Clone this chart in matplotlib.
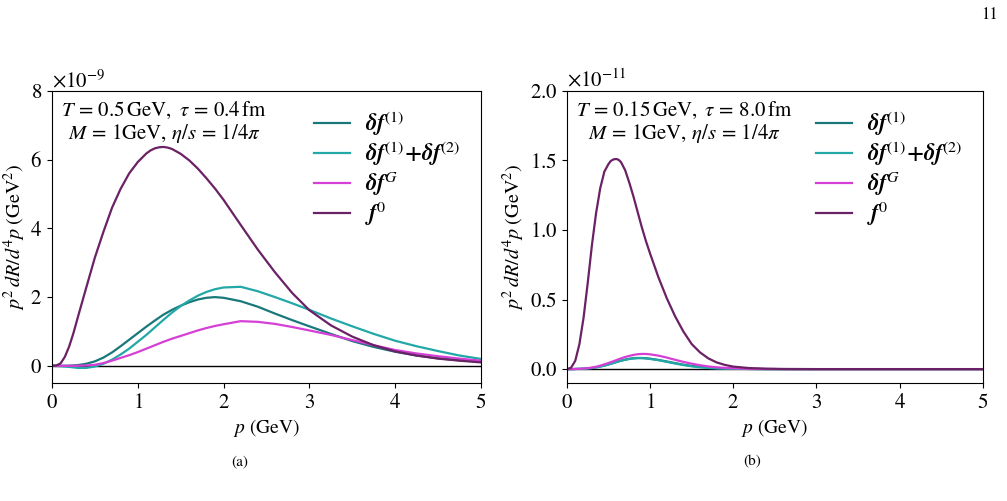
import numpy as np
import matplotlib
matplotlib.use("Agg")
import matplotlib.pyplot as plt
from matplotlib.ticker import ScalarFormatter

plt.rcParams['font.family'] = ['STIXGeneral', 'DejaVu Serif']
plt.rcParams['mathtext.fontset'] = 'stix'
plt.rcParams['axes.formatter.use_mathtext'] = True

# ---- panel (a): T = 0.5 GeV, tau = 0.4 fm  (values in units of 1e-9)
p_a = [0, 0.1, 0.2, 0.3, 0.4, 0.5, 0.6, 0.7, 0.8, 0.9, 1.0, 1.1, 1.2, 1.3, 1.4,
       1.5, 1.6, 1.7, 1.8, 1.9, 2.0, 2.2, 2.4, 2.6, 2.8, 3.0, 3.25, 3.5, 3.75,
       4.0, 4.25, 4.5, 4.75, 5.0]
df1_a = [0, 0, 0.005, 0.02, 0.06, 0.13, 0.24, 0.39, 0.57, 0.76, 0.95, 1.14,
         1.32, 1.49, 1.63, 1.75, 1.85, 1.93, 1.98, 2.0, 1.98, 1.88, 1.72, 1.52,
         1.33, 1.15, 0.93, 0.72, 0.55, 0.41, 0.3, 0.22, 0.16, 0.12]
df12_a = [0, -0.01, -0.03, -0.06, -0.06, -0.02, 0.06, 0.18, 0.33, 0.5, 0.7,
          0.9, 1.12, 1.34, 1.55, 1.74, 1.9, 2.04, 2.15, 2.23, 2.28, 2.3, 2.17,
          2.0, 1.82, 1.63, 1.38, 1.15, 0.93, 0.73, 0.57, 0.43, 0.3, 0.2]
dfG_a = [0, 0, 0, 0, 0.01, 0.03, 0.08, 0.15, 0.23, 0.31, 0.4, 0.5, 0.6, 0.7,
         0.79, 0.87, 0.95, 1.03, 1.1, 1.16, 1.21, 1.3, 1.28, 1.22, 1.13, 1.03,
         0.9, 0.75, 0.6, 0.46, 0.36, 0.28, 0.21, 0.15]
p_f0_a = [0, 0.05, 0.1, 0.15, 0.2, 0.25, 0.3, 0.4, 0.5, 0.6, 0.7, 0.8, 0.9, 1.0,
          1.1, 1.15, 1.2, 1.25, 1.3, 1.35, 1.4, 1.5, 1.6, 1.7, 1.8, 1.9, 2.0,
          2.2, 2.4, 2.6, 2.8, 3.0, 3.25, 3.5, 3.75, 4.0, 4.25, 4.5, 4.75, 5.0]
f0_a = [0, 0.01, 0.07, 0.26, 0.56, 0.95, 1.4, 2.28, 3.15, 3.9, 4.6, 5.15, 5.6,
        5.93, 6.18, 6.27, 6.33, 6.36, 6.37, 6.35, 6.31, 6.17, 5.98, 5.74, 5.46,
        5.16, 4.83, 4.1, 3.38, 2.72, 2.12, 1.62, 1.18, 0.85, 0.6, 0.42, 0.3,
        0.21, 0.15, 0.1]

# ---- panel (b): T = 0.15 GeV, tau = 8.0 fm  (values in units of 1e-11)
p_b = [0, 0.05, 0.1, 0.15, 0.2, 0.25, 0.3, 0.35, 0.4, 0.45, 0.5, 0.55, 0.6,
       0.65, 0.7, 0.75, 0.8, 0.85, 0.9, 0.95, 1.0, 1.1, 1.2, 1.3, 1.4, 1.5,
       1.6, 1.7, 1.8, 1.9, 2.0, 2.2, 2.4, 2.6, 3.0, 4.0, 5.0]
df1_b = [0, 0, 0.001, 0.002, 0.003, 0.005, 0.008, 0.013, 0.019, 0.026, 0.034,
         0.043, 0.052, 0.061, 0.068, 0.074, 0.078, 0.08, 0.08, 0.078, 0.075,
         0.066, 0.055, 0.043, 0.032, 0.023, 0.016, 0.011, 0.007, 0.005, 0.003,
         0.001, 0, 0, 0, 0, 0]
df12_b = [0, 0, 0.001, 0.002, 0.003, 0.005, 0.008, 0.012, 0.018, 0.025, 0.033,
          0.042, 0.051, 0.06, 0.067, 0.073, 0.077, 0.079, 0.079, 0.077, 0.073,
          0.064, 0.052, 0.04, 0.029, 0.02, 0.013, 0.008, 0.005, 0.003, 0.002,
          0.001, 0, 0, 0, 0, 0]
dfG_b = [0, 0, 0.001, 0.002, 0.004, 0.007, 0.011, 0.017, 0.025, 0.034, 0.044,
         0.055, 0.066, 0.077, 0.087, 0.095, 0.102, 0.107, 0.109, 0.109, 0.106,
         0.097, 0.083, 0.067, 0.052, 0.039, 0.028, 0.019, 0.013, 0.009, 0.006,
         0.002, 0.001, 0, 0, 0, 0]
p_f0_b = [0, 0.05, 0.1, 0.15, 0.2, 0.25, 0.3, 0.35, 0.4, 0.45, 0.5, 0.525,
          0.55, 0.575, 0.6, 0.625, 0.65, 0.7, 0.75, 0.8, 0.85, 0.9, 0.95, 1.0,
          1.1, 1.2, 1.3, 1.4, 1.5, 1.6, 1.7, 1.8, 1.9, 2.0, 2.2, 2.4, 2.6, 3.0,
          4.0, 5.0]
f0_b = [0, 0.01, 0.06, 0.18, 0.37, 0.62, 0.89, 1.12, 1.30, 1.42, 1.475, 1.495,
        1.505, 1.51, 1.51, 1.503, 1.488, 1.43, 1.34, 1.24, 1.13, 1.02, 0.92,
        0.83, 0.66, 0.51, 0.38, 0.27, 0.18, 0.12, 0.077, 0.048, 0.03, 0.018,
        0.007, 0.003, 0.001, 0, 0, 0]

labels = [r'$\boldsymbol{\delta f}^{(1)}$',
          r'$\boldsymbol{\delta f}^{(1)}\boldsymbol{+\delta f}^{(2)}$',
          r'$\boldsymbol{\delta f}^{G}$',
          r'$\boldsymbol{f}^{0}$']
colors = ['#19787a', '#22a8a6', '#d63fd6', '#6b2165']

fig = plt.figure(figsize=(10.07, 5.01), dpi=100)
ax1 = fig.add_axes([0.0516, 0.2355, 0.426, 0.583])
ax2 = fig.add_axes([0.563, 0.2355, 0.413, 0.583])


def draw_panel(ax, curves, scale, ylim, yticks, note):
    ax.axhline(0, color='black', lw=1.0, zorder=1)
    for (p, vals), lab, col in zip(curves, labels, colors):
        ax.plot(p, np.array(vals) * scale, color=col, lw=1.6, label=lab)
    ax.set_xlim(0, 5)
    ax.set_ylim(ylim[0] * scale, ylim[1] * scale)
    fmt = ScalarFormatter(useMathText=True)
    fmt.set_powerlimits((0, 0))
    ax.yaxis.set_major_formatter(fmt)
    ax.set_yticks(np.array(yticks) * scale)
    ax.tick_params(labelsize=15)
    ax.yaxis.get_offset_text().set_fontsize(15)
    ax.set_xlabel(r'$p$ (GeV)', fontsize=14, labelpad=3)
    ax.set_ylabel(r'$p^2\,dR/d^4p\;(\mathrm{GeV}^2)$', fontsize=14.5,
                  labelpad=2)
    ax.text(0.022, 0.97, note, transform=ax.transAxes, ha='left', va='top',
            fontsize=15, multialignment='center', linespacing=1.05)
    ax.legend(loc='upper right', frameon=False, fontsize=16.5,
              handlelength=1.55, handletextpad=0.65, labelspacing=0.08,
              borderaxespad=0.5, bbox_to_anchor=(1.0, 1.01))


draw_panel(ax1, [(p_a, df1_a), (p_a, df12_a), (p_a, dfG_a), (p_f0_a, f0_a)],
           1e-9, (-0.5, 8), [0, 2, 4, 6, 8],
           r'$T\,=\,0.5\,\mathrm{GeV},\ \tau\,=\,0.4\,\mathrm{fm}$' + '\n' +
           r'$M\,=\,1\mathrm{GeV},\, \eta/s\,=\,1/4\pi$')
draw_panel(ax2, [(p_b, df1_b), (p_b, df12_b), (p_b, dfG_b), (p_f0_b, f0_b)],
           1e-11, (-0.1, 2.0), [0.0, 0.5, 1.0, 1.5, 2.0],
           r'$T\,=\,0.15\,\mathrm{GeV},\ \tau\,=\,8.0\,\mathrm{fm}$' + '\n' +
           r'$M\,=\,1\mathrm{GeV},\, \eta/s\,=\,1/4\pi$')

fig.text(240 / 1007, 1 - 462 / 501, '(a)', ha='center', va='center', fontsize=11)
fig.text(752 / 1007, 1 - 462 / 501, '(b)', ha='center', va='center', fontsize=11)
fig.text(990 / 1007, 1 - 15 / 501, '11', ha='center', va='center', fontsize=12)

fig.savefig('out.png', dpi=100)
